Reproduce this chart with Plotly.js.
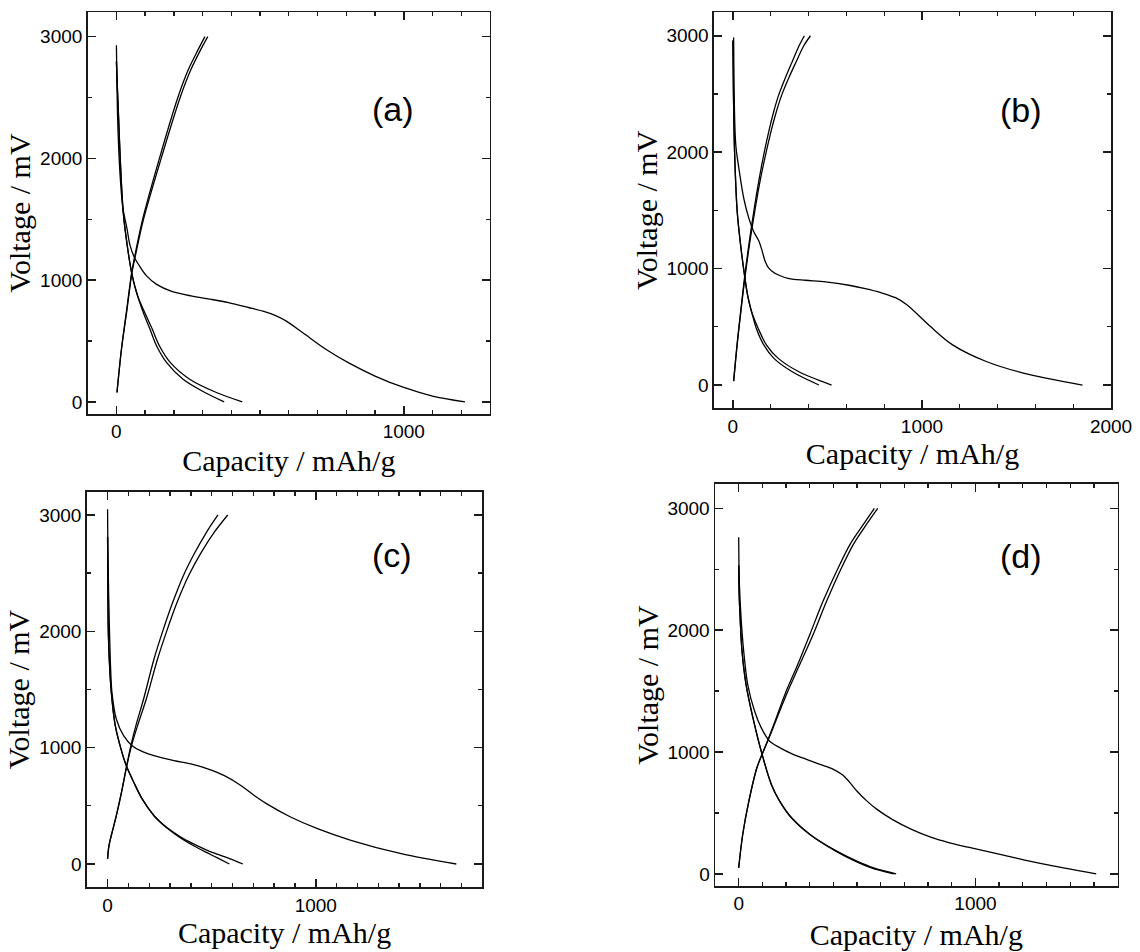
<!DOCTYPE html>
<html>
<head>
<meta charset="utf-8">
<script src="https://cdn.plot.ly/plotly-3.0.1.min.js"></script>
<style>html,body{margin:0;padding:0;background:#fff;}</style>
</head>
<body>
<div id="chart" style="width:1140px;height:952px;"></div>
<script>
// ---------- Panel (a) ----------
const aDis1X = [0, 2, 4, 8, 14, 22, 37, 47, 62, 82, 105, 140, 190, 260, 330, 390, 460, 510, 550, 590, 650, 730, 810, 900, 1000, 1100, 1213];
const aDis1Y = [2930, 2600, 2350, 2080, 1820, 1600, 1420, 1290, 1190, 1110, 1035, 965, 910, 870, 842, 815, 775, 745, 712, 665, 565, 430, 318, 212, 118, 48, 0];
const aDis2X = [0, 3, 7, 14, 24, 38, 53, 74, 99, 125, 150, 188, 255, 348, 438];
const aDis2Y = [2795, 2600, 2372, 1962, 1552, 1279, 1060, 869, 732, 596, 459, 322, 186, 77, 0];
const aDis3X = [0, 3, 7, 14, 24, 38, 53, 74, 94, 117, 140, 175, 232, 308, 375];
const aDis3Y = [2795, 2600, 2372, 1962, 1552, 1279, 1060, 869, 732, 596, 459, 322, 186, 77, 0];
const aChg1X = [2, 18, 36, 53, 65, 91, 149, 213, 250, 284, 308];
const aChg1Y = [77, 440, 760, 1060, 1210, 1497, 1994, 2494, 2727, 2891, 3000];
const aChg2X = [2, 18, 37, 54, 67, 94, 155, 221, 259, 293, 318];
const aChg2Y = [77, 440, 760, 1060, 1210, 1497, 1994, 2494, 2727, 2891, 3000];

// ---------- Panel (b) ----------
const bDis1X = [4, 5, 7, 10, 16, 32, 58, 85, 111, 138, 155, 170, 185, 205, 244, 297, 385, 491, 614, 700, 780, 860, 920, 1045, 1162, 1340, 1536, 1849];
const bDis1Y = [2986, 2750, 2500, 2250, 2050, 1857, 1600, 1429, 1314, 1235, 1150, 1065, 1015, 980, 943, 914, 900, 886, 857, 828, 795, 750, 690, 502, 345, 202, 103, 0];
const bDis2X = [0, 3, 9, 23, 41, 64, 78, 99, 134, 178, 240, 349, 522];
const bDis2Y = [2960, 2500, 2000, 1486, 1200, 914, 771, 629, 486, 343, 229, 114, 0];
const bDis3X = [0, 3, 9, 23, 41, 64, 78, 99, 124, 164, 217, 314, 455];
const bDis3Y = [2960, 2500, 2000, 1486, 1200, 914, 771, 629, 486, 343, 229, 114, 0];
const bChg1X = [4, 22, 41, 61, 84, 110, 139, 166, 193, 215, 241, 275, 312, 350, 378];
const bChg1Y = [34, 343, 629, 914, 1200, 1486, 1771, 2000, 2200, 2343, 2486, 2629, 2771, 2914, 3000];
const bChg2X = [4, 22, 42, 63, 87, 115, 146, 176, 205, 229, 257, 293, 333, 375, 410];
const bChg2Y = [34, 343, 629, 914, 1200, 1486, 1771, 2000, 2200, 2343, 2486, 2629, 2771, 2914, 3000];

// ---------- Panel (c) ----------
const cDis1X = [0, 1, 3, 5, 13, 21, 42, 77, 118, 158, 223, 319, 400, 481, 561, 642, 706, 771, 879, 1008, 1169, 1410, 1675];
const cDis1Y = [3050, 2800, 2550, 2335, 1762, 1475, 1246, 1103, 1017, 974, 931, 888, 860, 817, 759, 673, 587, 510, 404, 304, 204, 89, 0];
const cDis2X = [0, 1, 3, 8, 18, 37, 69, 90, 126, 166, 223, 267, 315, 372, 440, 510, 580, 650];
const cDis2Y = [2810, 2500, 2048, 1762, 1475, 1189, 960, 845, 702, 559, 415, 340, 275, 210, 150, 95, 50, 0];
const cDis3X = [0, 1, 3, 8, 18, 37, 69, 90, 126, 166, 223, 265, 310, 362, 420, 480, 530, 585];
const cDis3Y = [2810, 2500, 2048, 1762, 1475, 1189, 960, 845, 702, 559, 415, 340, 275, 210, 150, 95, 50, 0];
const cChg1X = [0, 6, 20, 40, 65, 90, 112, 136, 173, 223, 263, 313, 364, 420, 475, 530];
const cChg1Y = [43, 150, 260, 400, 600, 830, 1017, 1189, 1418, 1762, 1991, 2249, 2478, 2679, 2851, 3000];
const cChg2X = [0, 6, 20, 40, 65, 91, 115, 144, 186, 240, 282, 334, 389, 450, 512, 577];
const cChg2Y = [43, 150, 260, 400, 600, 830, 1017, 1189, 1418, 1762, 1991, 2249, 2478, 2679, 2851, 3000];

// ---------- Panel (d) ----------
const dDis1X = [0, 1, 3, 10, 21, 38, 67, 95, 130, 173, 230, 286, 343, 400, 435, 464, 499, 542, 584, 650, 730, 811, 890, 969, 1127, 1284, 1510];
const dDis1Y = [2762, 2550, 2378, 2104, 1830, 1556, 1337, 1200, 1091, 1036, 981, 940, 899, 858, 817, 762, 680, 597, 529, 445, 365, 301, 255, 219, 150, 82, 0];
const dDis2X = [0, 2, 6, 14, 31, 60, 95, 138, 173, 223, 301, 414, 499, 570, 665];
const dDis2Y = [2530, 2300, 2104, 1830, 1556, 1282, 1008, 734, 597, 460, 323, 186, 104, 49, 0];
const dDis3X = [0, 2, 6, 14, 31, 60, 95, 138, 173, 223, 301, 410, 492, 560, 655];
const dDis3Y = [2530, 2300, 2104, 1830, 1556, 1282, 1008, 734, 597, 460, 323, 186, 104, 49, 0];
const dChg1X = [0, 17, 43, 77, 116, 138, 159, 201, 244, 301, 357, 421, 471, 528, 573];
const dChg1Y = [49, 323, 597, 871, 1063, 1173, 1282, 1501, 1693, 1967, 2241, 2515, 2707, 2872, 3000];
const dChg2X = [0, 17, 43, 77, 117, 140, 162, 208, 252, 315, 372, 435, 485, 541, 587];
const dChg2Y = [49, 323, 597, 871, 1063, 1173, 1282, 1501, 1693, 1967, 2241, 2515, 2707, 2872, 3000];

const panelLabels = ['(a)', '(b)', '(c)', '(d)'];
const xTitle = 'Capacity / mAh/g';
const yTitle = 'Voltage / mV';

const panels = [
  {xa: 'x', ya: 'y', curves: [[aDis1X, aDis1Y], [aDis2X, aDis2Y], [aDis3X, aDis3Y], [aChg1X, aChg1Y], [aChg2X, aChg2Y]]},
  {xa: 'x2', ya: 'y2', curves: [[bDis1X, bDis1Y], [bDis2X, bDis2Y], [bDis3X, bDis3Y], [bChg1X, bChg1Y], [bChg2X, bChg2Y]]},
  {xa: 'x3', ya: 'y3', curves: [[cDis1X, cDis1Y], [cDis2X, cDis2Y], [cDis3X, cDis3Y], [cChg1X, cChg1Y], [cChg2X, cChg2Y]]},
  {xa: 'x4', ya: 'y4', curves: [[dDis1X, dDis1Y], [dDis2X, dDis2Y], [dDis3X, dDis3Y], [dChg1X, dChg1Y], [dChg2X, dChg2Y]]}
];

const traces = [];
panels.forEach(p => {
  p.curves.forEach(c => {
    traces.push({
      x: c[0], y: c[1], xaxis: p.xa, yaxis: p.ya,
      type: 'scatter', mode: 'lines',
      line: {color: '#000', width: 1.3, shape: 'spline', smoothing: 0.9},
      hoverinfo: 'x+y', showlegend: false
    });
  });
});

const tickFont = {family: 'Arial, "Liberation Sans", sans-serif', size: 19, color: '#000'};
const titleFont = {family: '"Times New Roman", "Liberation Serif", serif', size: 30, color: '#000'};
const frameColor = '#1a1a1a';

function xAxis(domain, range, anchor, minorStep, standoff) {
  return {
    domain: domain, range: range, anchor: anchor,
    tickmode: 'linear', tick0: 0, dtick: 1000,
    ticks: 'inside', ticklen: 8, tickwidth: 1.5, tickcolor: frameColor,
    minor: {tickmode: 'linear', tick0: 0, dtick: minorStep, ticks: 'inside', ticklen: 4, tickwidth: 1.3, tickcolor: frameColor, showgrid: false},
    showline: true, linecolor: frameColor, linewidth: 1.5, mirror: 'allticks',
    showgrid: false, zeroline: false, tickfont: tickFont,
    title: {text: xTitle, font: titleFont, standoff: standoff}
  };
}
function yAxis(domain, range, anchor, standoff) {
  return {
    domain: domain, range: range, anchor: anchor,
    tickmode: 'linear', tick0: 0, dtick: 1000,
    ticks: 'inside', ticklen: 8, tickwidth: 1.5, tickcolor: frameColor,
    minor: {tickmode: 'linear', tick0: 0, dtick: 500, ticks: 'inside', ticklen: 4, tickwidth: 1.3, tickcolor: frameColor, showgrid: false},
    showline: true, linecolor: frameColor, linewidth: 1.5, mirror: 'allticks',
    showgrid: false, zeroline: false, tickfont: tickFont,
    title: {text: yTitle, font: titleFont, standoff: standoff}
  };
}

const rangeAx = [-100, 1300], rangeAy = [-100, 3200];
const rangeBx = [-100, 2000], rangeBy = [-200, 3200];
const rangeCx = [-100, 1800], rangeCy = [-200, 3200];
const rangeDx = [-100, 1600], rangeDy = [-100, 3200];

const labelFont = {family: 'Arial, "Liberation Sans", sans-serif', size: 34, color: '#000'};

const layout = {
  width: 1140, height: 952,
  margin: {l: 0, r: 0, t: 0, b: 0},
  paper_bgcolor: '#fff', plot_bgcolor: '#fff',
  showlegend: false,
  xaxis:  xAxis([0.0769, 0.4298], rangeAx, 'y', 100, 8),
  yaxis:  yAxis([0.5651, 0.9871], rangeAy, 'x', 0),
  xaxis2: xAxis([0.6263, 0.9746], rangeBx, 'y2', 200, 6),
  yaxis2: yAxis([0.5711, 0.9869], rangeBy, 'x2', 0),
  xaxis3: xAxis([0.0761, 0.4231], rangeCx, 'y3', 100, 0),
  yaxis3: yAxis([0.0680, 0.4835], rangeCy, 'x3', 0),
  xaxis4: xAxis([0.6272, 0.9803], rangeDx, 'y4', 100, 10),
  yaxis4: yAxis([0.0693, 0.4916], rangeDy, 'x4', 0),
  annotations: [
    {text: panelLabels[0], xref: 'x domain', yref: 'y domain', x: 0.759, y: 0.759, xanchor: 'center', yanchor: 'middle', showarrow: false, font: labelFont},
    {text: panelLabels[1], xref: 'x2 domain', yref: 'y2 domain', x: 0.773, y: 0.753, xanchor: 'center', yanchor: 'middle', showarrow: false, font: labelFont},
    {text: panelLabels[2], xref: 'x3 domain', yref: 'y3 domain', x: 0.771, y: 0.84, xanchor: 'center', yanchor: 'middle', showarrow: false, font: labelFont},
    {text: panelLabels[3], xref: 'x4 domain', yref: 'y4 domain', x: 0.761, y: 0.821, xanchor: 'center', yanchor: 'middle', showarrow: false, font: labelFont}
  ]
};

Plotly.newPlot('chart', traces, layout, {displayModeBar: false, staticPlot: true});
</script>
</body>
</html>
